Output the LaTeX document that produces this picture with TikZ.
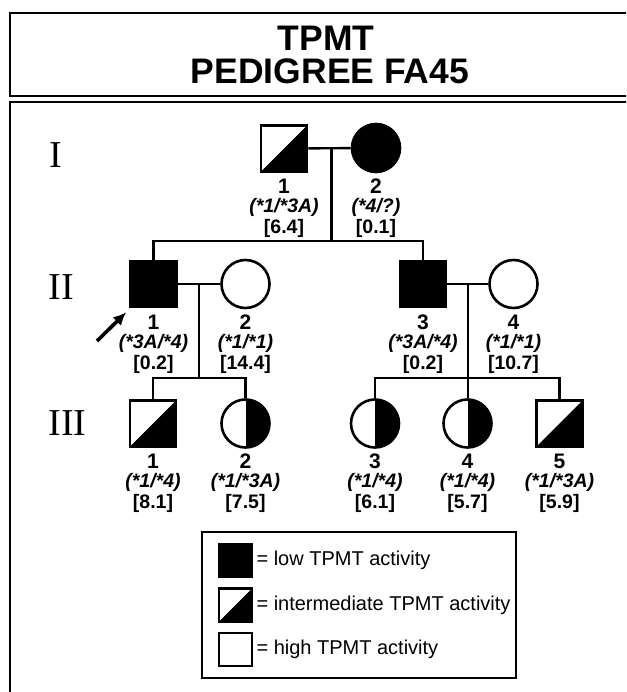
\documentclass[tikz,border=0pt]{standalone}
\usepackage{fontspec}
\setmainfont{Liberation Sans}
\newfontfamily\romanfont{Liberation Serif}
\usetikzlibrary{calc,arrows.meta}

\tikzset{
    person/.style={draw, line width=2.6pt, inner sep=0pt, minimum size=46pt},
    sq/.style={person, rectangle},
    ci/.style={person, circle, minimum size=48pt},
    sqlow/.style={sq, fill=black},
    sqint/.style={sq, path picture={
        \fill (path picture bounding box.south west) -- (path picture bounding box.south east)
            -- (path picture bounding box.north east) -- cycle;}},
    cilow/.style={ci, fill=black},
    cihigh/.style={ci, fill=white},
    ciint/.style={ci, path picture={
        \fill (path picture bounding box.south) rectangle (path picture bounding box.north east);}},
    line/.style={line width=2.4pt},
    frame/.style={line width=2.4pt},
    numfont/.style={font=\fontsize{21}{21}\selectfont\bfseries},
    genofont/.style={font=\fontsize{19.5}{19.5}\selectfont\bfseries\itshape},
    actfont/.style={font=\fontsize{19.5}{19.5}\selectfont\bfseries},
    genlabel/.style={font=\fontsize{38}{38}\selectfont\romanfont, anchor=west},
    keybox/.style={draw, line width=2.2pt, inner sep=0pt, minimum size=33pt},
    keytext/.style={font=\fontsize{20}{20}\selectfont, anchor=west},
}

\begin{document}
\begin{tikzpicture}[x=1pt, y=-1pt]

    % --- Lienzo y marcos ---
    \clip (0,0) rectangle (626,692);
    \fill[white] (0,0) rectangle (626,692);
    \draw[frame] (10,13) rectangle (650,96);
    \draw[frame] (10,102) rectangle (650,720);

    % Titulo
    \node[font=\fontsize{35.5}{35.5}\selectfont\bfseries] (title1) at (326,38) {TPMT};
    \node[font=\fontsize{35.5}{35.5}\selectfont\bfseries] (title2) at (330,71) {PEDIGREE FA45};

    % --- Generaciones ---
    \node[genlabel] (genI) at (46,155) {I};
    \node[genlabel] (genII) at (45,287) {II};
    \node[genlabel] (genIII) at (45,423) {III};

    % --- Individuos (nombre, x, y, simbolo, numero, genotipo, actividad) ---
    \foreach \nm/\px/\py/\kind/\num/\geno/\act in {
        I1/284/148.5/sqint/1/{(*1/*3A)}/{[6.4]},
        I2/376/148/cilow/2/{(*4/?)}/{[0.1]},
        II1/153.5/284/sqlow/1/{(*3A/*4)}/{[0.2]},
        II2/245.5/284/cihigh/2/{(*1/*1)}/{[14.4]},
        II3/423/284/sqlow/3/{(*3A/*4)}/{[0.2]},
        II4/513.5/284/cihigh/4/{(*1/*1)}/{[10.7]},
        III1/153/423.5/sqint/1/{(*1/*4)}/{[8.1]},
        III2/245.5/423.5/ciint/2/{(*1/*3A)}/{[7.5]},
        III3/375/423.5/ciint/3/{(*1/*4)}/{[6.1]},
        III4/467.5/423.5/ciint/4/{(*1/*4)}/{[5.7]},
        III5/559.5/423.5/sqint/5/{(*1/*3A)}/{[5.9]}}{
        % 1. Simbolo
        \node[\kind] (\nm) at (\px,\py) {};
        % 2. Etiquetas bajo el simbolo
        \node[numfont] (\nm num) at (\px,\py+38) {\num};
        \node[genofont] (\nm geno) at (\px,\py+59) {\geno};
        \node[actfont] (\nm act) at (\px,\py+80) {\act};
    }

    % --- Lineas de pareja y descendencia ---
    \coordinate (sibI) at (0,241);
    \coordinate (sibIII) at (0,378);

    % Generacion I
    \draw[line] (I1) -- (I2);
    \coordinate (mI) at ($(I1.east)!0.55!(I2.west)$);
    \draw[line] (mI) -- (mI |- sibI);
    \draw[line] (II1.north) -- (II1 |- sibI) -- (II3 |- sibI) -- (II3.north);

    % Generacion II, izquierda
    \draw[line] (II1) -- (II2);
    \coordinate (mII1) at ($(II1.east)!0.5!(II2.west)$);
    \draw[line] (mII1) -- (mII1 |- sibIII);
    \draw[line] (III1.north) -- (III1 |- sibIII) -- (III2 |- sibIII) -- (III2.north);

    % Generacion II, derecha
    \draw[line] (II3) -- (II4);
    \coordinate (mII2) at ($(II3.east)!0.5!(II4.west)$);
    \draw[line] (mII2) -- (mII2 |- III4.north);
    \draw[line] (III3.north) -- (III3 |- sibIII) -- (III5 |- sibIII) -- (III5.north);

    % Caso indice
    \coordinate (proband) at (97,341);
    \draw[line width=3.6pt, -{Latex[length=13pt,width=12pt]}] (proband) -- ([shift={(-3pt,-4pt)}]II1.south west);

    % --- Leyenda ---
    \draw[line width=2.2pt] (202,532) rectangle (516,678);
    \node[keybox, fill=black] (keylow) at (235.5,560.5) {};
    \node[keybox, path picture={
        \fill (path picture bounding box.south west) -- (path picture bounding box.south east)
            -- (path picture bounding box.north east) -- cycle;}] (keyint) at (235.5,605) {};
    \node[keybox] (keyhigh) at (235.5,649.5) {};
    \node[keytext] (txtlow) at (253,560.5) {= low TPMT activity};
    \node[keytext] (txtint) at (253,605) {= intermediate TPMT activity};
    \node[keytext] (txthigh) at (253,649.5) {= high TPMT activity};

\end{tikzpicture}
\end{document}
